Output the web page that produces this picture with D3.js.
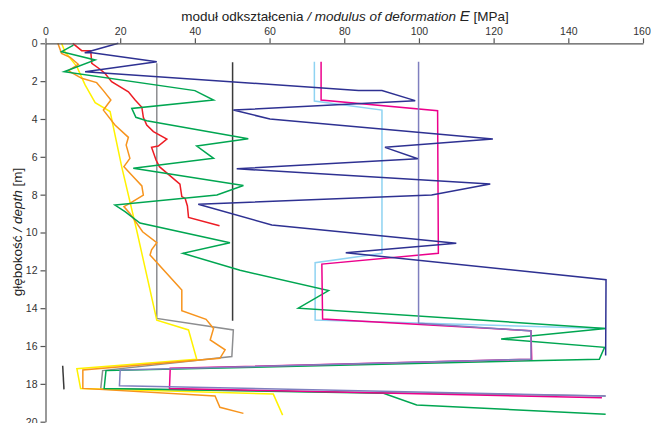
<!DOCTYPE html>
<html lang="pl">
<head>
    <meta charset="UTF-8">
    <title>moduł odkształcenia</title>
    <style>
        body { margin: 0; background: #fff; }
        svg text { font-family: "Liberation Sans", Arial, sans-serif; }
    </style>
</head>
<body>
<script src="https://d3js.org/d3.v7.min.js"></script>
<script>

    // ticks
    let xTicks = [0, 20, 40, 60, 80, 100, 120, 140, 160];
    let yTicks = [0, 2, 4, 6, 8, 10, 12, 14, 16, 18, 20];

    // each series: [E (MPa), depth (m)]
    let navy = [[19.5, 0], [10.5, 0.5], [12.5, 0.5], [29.8, 0.97], [10.6, 1.5], [83.8, 2.5], [90.1, 2.5],
        [99, 3.03], [50.3, 3.53], [60.1, 4.0], [119.8, 5.06], [90.9, 5.5], [99.7, 6.1], [51.2, 6.63],
        [119.1, 7.44], [103.4, 8.02], [40.9, 8.51], [60.6, 9.6], [110, 10.57], [80.4, 11.07],
        [150.1, 12.5], [150, 16.5]];
    let red = [[7.3, 0], [9.7, 0.39], [12.1, 0.39], [12.4, 1.06], [14.6, 1.37], [15.9, 1.59], [17.7, 2.03],
        [22.2, 2.56], [24, 3.0], [25.8, 3.38], [26.2, 3.91], [27.1, 4.32], [28.9, 4.67], [32.5, 5.06],
        [30.2, 5.43], [28.4, 5.5], [29.6, 6.17], [30.5, 6.52], [36, 7.44], [36.5, 8.1], [37.4, 8.2],
        [38, 8.6], [38.3, 9.2], [46.6, 9.64]];
    let green = [[7.5, 0.1], [4.3, 0.44], [13.3, 0.88], [5, 1.5], [40, 2.5], [45, 3.0], [23.1, 3.44],
        [24.2, 3.91], [27.1, 4.09], [54.3, 5.04], [40.5, 5.43], [45, 6.08], [23.5, 6.61], [53, 7.52],
        [45.9, 8.02], [18.6, 8.55], [21.3, 8.9], [25.3, 9.5], [49.4, 10.54], [36.8, 11.1], [52.1, 12.0],
        [75.8, 13.07], [67.7, 14.0], [150, 15.07], [122, 15.63], [149.7, 16.07], [148.3, 16.7],
        [16.2, 17.3], [15.7, 18.24], [90.5, 18.5], [99.4, 19.12], [150, 19.6]];
    let orange = [[3.3, 0], [4.3, 0.53], [6.6, 0.74], [8.8, 1.11], [6.1, 1.45], [9.7, 1.85], [13.7, 2.08],
        [15.5, 2.5], [17.5, 3.0], [15.5, 3.53], [18.6, 4.32], [22.2, 4.97], [21.6, 5.38], [22.6, 6.08],
        [21, 6.52], [23.5, 7.05], [25.8, 7.54], [26.2, 8.02], [22.9, 8.42], [21, 8.63], [22.6, 8.99],
        [26, 9.96], [29.8, 10.54], [28.4, 10.92], [28, 11.19], [36.5, 13.04], [36.5, 14.13], [43, 14.59],
        [45, 15.07], [44.1, 15.68], [48.1, 16.2], [46.7, 16.65], [10, 17.27], [10, 18.24], [45.4, 18.64],
        [46.7, 19.24], [53, 19.56]];
    let yellow = [[4.3, 0], [5.2, 0.44], [8.4, 1.23], [10.6, 2.2], [13.3, 3.14], [17.3, 3.61], [20.4, 6.52],
        [24.4, 9.87], [29.8, 14.63], [38.3, 15.15], [40.5, 16.7], [8.4, 17.2], [9.4, 18.24], [61, 18.54],
        [63.5, 19.65]];
    let grey = [[29.8, 1.05], [29.8, 14.54], [50.3, 15.15], [49.9, 16.56], [15.3, 17.3], [14.8, 18.24], [150, 18.64]];
    let black = [[50.1, 1.0], [50.1, 14.66]];
    let blackShort = [[4.6, 17.04], [4.95, 18.29]];
    let lightBlue = [[72, 0.97], [72, 3.05], [90.1, 3.53], [90.1, 11.1], [72.2, 11.6], [72.2, 14.62], [150, 15.08]];
    let magenta = [[73.8, 0.97], [73.8, 3.0], [105, 3.56], [105.2, 11.1], [74, 11.67], [74.2, 14.57],
        [130, 15.19], [130.2, 16.7], [33.4, 17.18], [33.2, 18.24], [149, 18.73]];
    let purple = [[99.9, 0.97], [99.9, 14.8], [130, 15.2], [130, 16.7], [20, 17.27], [19.8, 18.1], [150, 18.64]];

    let w = 651, h = 423;
    let inner = {top: 43.3, right: 8, bottom: 1.3, left: 45.5};

    let svg = d3.select("body")
        .append("svg")
        .attr("width", w)
        .attr("height", h);

    let xScale = d3.scaleLinear()
        .domain([0, 160])
        .range([inner.left, w - inner.right]);

    let yScale = d3.scaleLinear()
        .domain([0, 20])
        .range([inner.top, h - inner.bottom]);

    let line = d3.line()
        .x(d => xScale(d[0]))
        .y(d => yScale(d[1]));

    // series, drawn in order
    let series = [
        [grey, "#8d8e90"],
        [black, "#3a3a3a"],
        [blackShort, "#3a3a3a"],
        [lightBlue, "#8fd3f2"],
        [yellow, "#fff200"],
        [orange, "#f7941d"],
        [red, "#ed1c24"],
        [green, "#00a651"],
        [magenta, "#ec008c"],
        [purple, "#7f7fbf"],
        [navy, "#2e3192"]
    ];

    series.forEach(function (s) {
        svg.append("path")
            .attr("d", line(s[0]))
            .attr("fill", "none")
            .attr("stroke", s[1])
            .attr("stroke-width", 1.5)
            .attr("stroke-linejoin", "miter");
    });

    // axes
    let xAxis = d3.axisTop(xScale).tickValues(xTicks).tickSize(5).tickSizeOuter(0).tickPadding(3);
    let yAxis = d3.axisLeft(yScale).tickValues(yTicks).tickSize(5).tickSizeOuter(0).tickPadding(3);

    let gx = svg.append("g")
        .attr("transform", "translate(0," + inner.top + ")")
        .call(xAxis);
    let gy = svg.append("g")
        .attr("transform", "translate(" + inner.left + ",0)")
        .call(yAxis);

    [gx, gy].forEach(function (g) {
        g.selectAll("path, line").attr("stroke", "#555").attr("stroke-width", 1.2);
        g.selectAll("text")
            .attr("fill", "#333")
            .style("font-size", "10.5px")
            .style("font-family", "'Liberation Sans', Arial, sans-serif");
    });

    // keep the last x label inside the window
    gx.selectAll(".tick text").filter(d => d === 160).attr("dx", "-1.5");

    // title
    let title = svg.append("text")
        .attr("x", 345)
        .attr("y", 21)
        .attr("text-anchor", "middle")
        .style("font-size", "13.5px")
        .attr("fill", "#222");
    title.append("tspan").text("moduł odkształcenia ");
    title.append("tspan").style("font-style", "italic").text("/ modulus of deformation ");
    title.append("tspan").style("font-style", "italic").style("font-size", "15px").text("E");
    title.append("tspan").text(" [MPa]");

    // y label
    let ylab = svg.append("text")
        .attr("transform", "translate(22,232) rotate(-90)")
        .attr("text-anchor", "middle")
        .style("font-size", "13.5px")
        .attr("fill", "#222");
    ylab.append("tspan").text("głębokość ");
    ylab.append("tspan").style("font-style", "italic").text("/ depth");
    ylab.append("tspan").text(" [m]");

</script>
</body>
</html>
